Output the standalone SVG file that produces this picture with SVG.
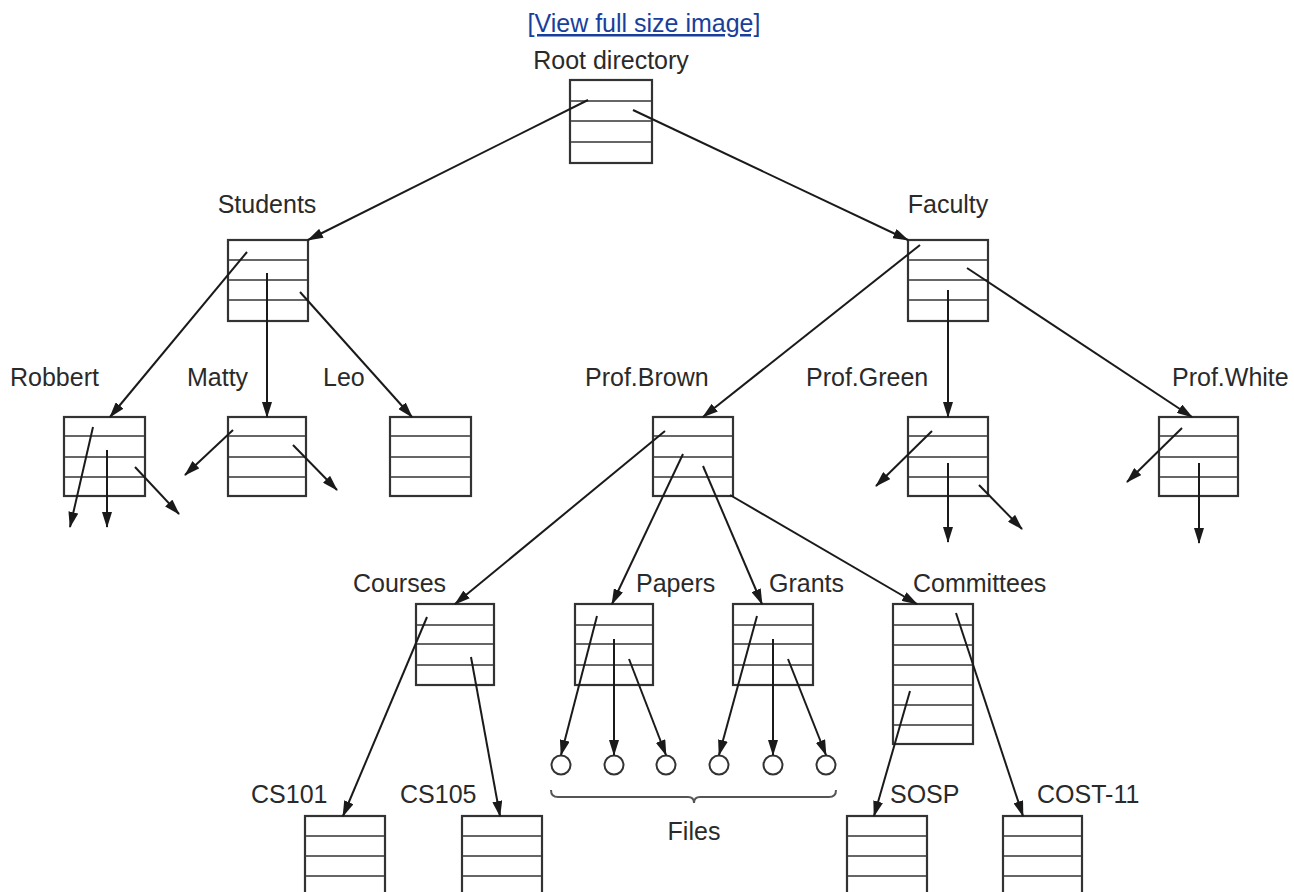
<svg xmlns="http://www.w3.org/2000/svg" width="1294" height="892" viewBox="0 0 1294 892">
<defs>
<marker id="ah" viewBox="0 0 16 10" refX="15" refY="5" markerWidth="16" markerHeight="10" markerUnits="userSpaceOnUse" orient="auto">
<path d="M0,0 L16,5 L0,10 z" fill="#1a1a1a"/>
</marker>
<style>
text{font-family:"Liberation Sans",Arial,sans-serif;font-size:25px;fill:#2a2a2a}
.link{fill:#1a3e9c;text-decoration:underline}
.box{fill:#fff;stroke:#333;stroke-width:2.2}
.row{stroke:#666;stroke-width:2}
.c line{stroke:#1a1a1a;stroke-width:2;marker-end:url(#ah)}
.file{fill:#fff;stroke:#333;stroke-width:2}
</style>
</defs>
<rect width="1294" height="892" fill="#fff"/>
<text class="link" x="644" y="32" text-anchor="middle">[View full size image]</text>

<g id="root"><text x="611" y="69" text-anchor="middle">Root directory</text>
<rect class="box" x="570" y="80" width="82" height="83"/>
<line class="row" x1="571" y1="101" x2="651" y2="101"/><line class="row" x1="571" y1="121" x2="651" y2="121"/><line class="row" x1="571" y1="142" x2="651" y2="142"/></g>

<g id="students"><text x="267" y="213" text-anchor="middle">Students</text>
<rect class="box" x="228" y="240" width="80" height="81"/>
<line class="row" x1="229" y1="260" x2="307" y2="260"/><line class="row" x1="229" y1="280" x2="307" y2="280"/><line class="row" x1="229" y1="300" x2="307" y2="300"/></g>

<g id="faculty"><text x="948" y="213" text-anchor="middle">Faculty</text>
<rect class="box" x="908" y="240" width="80" height="81"/>
<line class="row" x1="909" y1="260" x2="987" y2="260"/><line class="row" x1="909" y1="280" x2="987" y2="280"/><line class="row" x1="909" y1="300" x2="987" y2="300"/></g>

<g id="robbert"><text x="10" y="386">Robbert</text>
<rect class="box" x="64" y="417" width="81" height="79"/>
<line class="row" x1="65" y1="436" x2="144" y2="436"/><line class="row" x1="65" y1="457" x2="144" y2="457"/><line class="row" x1="65" y1="477" x2="144" y2="477"/></g>

<g id="matty"><text x="187" y="386">Matty</text>
<rect class="box" x="228" y="417" width="78" height="79"/>
<line class="row" x1="229" y1="436" x2="305" y2="436"/><line class="row" x1="229" y1="457" x2="305" y2="457"/><line class="row" x1="229" y1="477" x2="305" y2="477"/></g>

<g id="leo"><text x="323" y="386">Leo</text>
<rect class="box" x="390" y="417" width="81" height="79"/>
<line class="row" x1="391" y1="436" x2="470" y2="436"/><line class="row" x1="391" y1="457" x2="470" y2="457"/><line class="row" x1="391" y1="477" x2="470" y2="477"/></g>

<g id="profbrown"><text x="585" y="386">Prof.Brown</text>
<rect class="box" x="653" y="417" width="80" height="79"/>
<line class="row" x1="654" y1="436" x2="732" y2="436"/><line class="row" x1="654" y1="457" x2="732" y2="457"/><line class="row" x1="654" y1="477" x2="732" y2="477"/></g>

<g id="profgreen"><text x="806" y="386">Prof.Green</text>
<rect class="box" x="908" y="417" width="80" height="79"/>
<line class="row" x1="909" y1="436" x2="987" y2="436"/><line class="row" x1="909" y1="457" x2="987" y2="457"/><line class="row" x1="909" y1="477" x2="987" y2="477"/></g>

<g id="profwhite"><text x="1172" y="386">Prof.White</text>
<rect class="box" x="1159" y="417" width="79" height="79"/>
<line class="row" x1="1160" y1="436" x2="1237" y2="436"/><line class="row" x1="1160" y1="457" x2="1237" y2="457"/><line class="row" x1="1160" y1="477" x2="1237" y2="477"/></g>

<g id="courses"><text x="353" y="592">Courses</text>
<rect class="box" x="416" y="604" width="78" height="81"/>
<line class="row" x1="417" y1="625" x2="493" y2="625"/><line class="row" x1="417" y1="644" x2="493" y2="644"/><line class="row" x1="417" y1="665" x2="493" y2="665"/></g>

<g id="papers"><text x="636" y="592">Papers</text>
<rect class="box" x="575" y="604" width="78" height="81"/>
<line class="row" x1="576" y1="625" x2="652" y2="625"/><line class="row" x1="576" y1="644" x2="652" y2="644"/><line class="row" x1="576" y1="665" x2="652" y2="665"/></g>

<g id="grants"><text x="769" y="592">Grants</text>
<rect class="box" x="733" y="604" width="80" height="81"/>
<line class="row" x1="734" y1="625" x2="812" y2="625"/><line class="row" x1="734" y1="644" x2="812" y2="644"/><line class="row" x1="734" y1="665" x2="812" y2="665"/></g>

<g id="committees"><text x="913" y="592">Committees</text>
<rect class="box" x="893" y="604" width="80" height="140"/>
<line class="row" x1="894" y1="625" x2="972" y2="625"/><line class="row" x1="894" y1="645" x2="972" y2="645"/><line class="row" x1="894" y1="665" x2="972" y2="665"/><line class="row" x1="894" y1="685" x2="972" y2="685"/><line class="row" x1="894" y1="705" x2="972" y2="705"/><line class="row" x1="894" y1="725" x2="972" y2="725"/></g>

<g id="cs101"><text x="251" y="803">CS101</text>
<rect class="box" x="305" y="816" width="80" height="90"/>
<line class="row" x1="306" y1="836" x2="384" y2="836"/><line class="row" x1="306" y1="856" x2="384" y2="856"/><line class="row" x1="306" y1="876" x2="384" y2="876"/></g>

<g id="cs105"><text x="400" y="803">CS105</text>
<rect class="box" x="462" y="816" width="80" height="90"/>
<line class="row" x1="463" y1="836" x2="541" y2="836"/><line class="row" x1="463" y1="856" x2="541" y2="856"/><line class="row" x1="463" y1="876" x2="541" y2="876"/></g>

<g id="sosp"><text x="890" y="803">SOSP</text>
<rect class="box" x="847" y="816" width="80" height="90"/>
<line class="row" x1="848" y1="836" x2="926" y2="836"/><line class="row" x1="848" y1="856" x2="926" y2="856"/><line class="row" x1="848" y1="876" x2="926" y2="876"/></g>

<g id="cost11"><text x="1037" y="803">COST-11</text>
<rect class="box" x="1003" y="816" width="79" height="90"/>
<line class="row" x1="1004" y1="836" x2="1081" y2="836"/><line class="row" x1="1004" y1="856" x2="1081" y2="856"/><line class="row" x1="1004" y1="876" x2="1081" y2="876"/></g>

<g id="files">
<circle class="file" cx="561" cy="765" r="9.5"/><circle class="file" cx="614" cy="765" r="9.5"/><circle class="file" cx="666" cy="765" r="9.5"/>
<circle class="file" cx="719" cy="765" r="9.5"/><circle class="file" cx="773" cy="765" r="9.5"/><circle class="file" cx="826" cy="765" r="9.5"/>
<path d="M551,790 Q551,797 558,797 L688,797 Q694,797 694,803 Q694,797 700,797 L829,797 Q836,797 836,790" fill="none" stroke="#555" stroke-width="2"/>
<text x="694" y="840" text-anchor="middle">Files</text>
</g>

<g id="connectors" class="c">
<line x1="588" y1="100" x2="308" y2="240"/>
<line x1="633" y1="110" x2="908" y2="240"/>
<line x1="247" y1="252" x2="110" y2="417"/>
<line x1="267" y1="273" x2="267" y2="417"/>
<line x1="300" y1="292" x2="412" y2="417"/>
<line x1="920" y1="245" x2="703" y2="417"/>
<line x1="948" y1="290" x2="948" y2="417"/>
<line x1="967" y1="268" x2="1192" y2="417"/>
<line x1="93" y1="427" x2="70" y2="527"/>
<line x1="107" y1="450" x2="107" y2="527"/>
<line x1="135" y1="467" x2="179" y2="514"/>
<line x1="233" y1="430" x2="185" y2="475"/>
<line x1="293" y1="445" x2="337" y2="490"/>
<line x1="932" y1="431" x2="876" y2="486"/>
<line x1="948" y1="463" x2="948" y2="542"/>
<line x1="979" y1="485" x2="1022" y2="529"/>
<line x1="1182" y1="428" x2="1127" y2="482"/>
<line x1="1199" y1="463" x2="1199" y2="543"/>
<line x1="665" y1="431" x2="455" y2="604"/>
<line x1="683" y1="454" x2="612" y2="604"/>
<line x1="703" y1="466" x2="762" y2="604"/>
<line x1="730" y1="495" x2="917" y2="604"/>
<line x1="427" y1="617" x2="343" y2="816"/>
<line x1="471" y1="657" x2="500" y2="816"/>
<line x1="597" y1="616" x2="561" y2="755"/>
<line x1="614" y1="639" x2="614" y2="755"/>
<line x1="629" y1="659" x2="666" y2="755"/>
<line x1="757" y1="616" x2="719" y2="755"/>
<line x1="773" y1="639" x2="773" y2="755"/>
<line x1="788" y1="659" x2="826" y2="755"/>
<line x1="910" y1="691" x2="874" y2="816"/>
<line x1="956" y1="613" x2="1023" y2="816"/>
</g>
</svg>
